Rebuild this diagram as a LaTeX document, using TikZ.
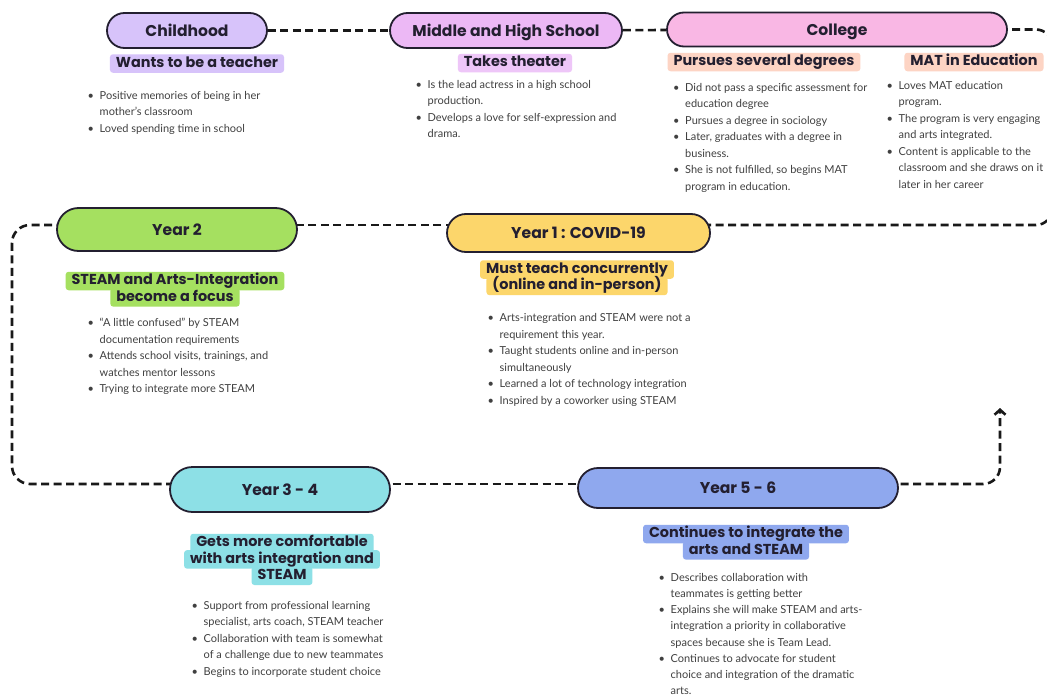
\documentclass[tikz,border=0pt]{standalone}
\usepackage{fontspec}
\setmainfont{Lato}
\newfontfamily\headfont{Poppins}
\usetikzlibrary{positioning, arrows.meta, backgrounds}
\definecolor{childFill}{HTML}{D7C3FA}
\definecolor{schoolFill}{HTML}{ECB8F5}
\definecolor{schoolHl}{HTML}{EEC6F8}
\definecolor{collegeFill}{HTML}{F9B7E4}
\definecolor{degreeFill}{HTML}{FDD4C4}
\definecolor{yearTwoFill}{HTML}{A5E060}
\definecolor{yearOneFill}{HTML}{FCD66B}
\definecolor{yearThreeFill}{HTML}{8DE0E6}
\definecolor{yearFiveFill}{HTML}{8FA8EE}
\definecolor{inkDark}{HTML}{231F30}
\definecolor{bodyGrey}{HTML}{404040}
\newcommand{\bpt}{\makebox[12pt][l]{\textbullet}}
\newcommand{\bgap}{\hspace*{12pt}}

\begin{document}
\begin{tikzpicture}[x=1pt, y=-1pt,
    pill/.style n args={3}{draw=inkDark, line width=1.8pt, fill=#1,
        minimum width=#2pt, minimum height=#3pt, rounded corners=0.5*#3pt,
        inner sep=0pt, text height=11pt, text depth=0pt, text=inkDark,
        font=\headfont\bfseries\fontsize{15.6}{17}\selectfont},
    hl/.style={fill=#1, rounded corners=3pt, inner xsep=6pt, inner ysep=2.5pt,
        text height=10.5pt, text depth=3pt, text=inkDark,
        font=\headfont\bfseries\fontsize{14.4}{16}\selectfont},
    notes/.style={anchor=north west, align=left, inner sep=0pt, text=bodyGrey,
        font=\fontsize{11}{16.5}\selectfont},
    trail/.style={line width=2.6pt, dash pattern=on 8pt off 4.5pt, draw=black!90}]
    \useasboundingbox (0,0) rectangle (1047,696);

    % stages
    \node[pill={childFill}{160}{35}] (child) at (187, 30.5) {Childhood};
    \node[pill={schoolFill}{232}{35}] (school) at (506, 30.5) {Middle and High School};
    \node[pill={collegeFill}{340}{34}] (college) at (837, 29.5) {College};
    \node[pill={yearTwoFill}{240}{43}] (yearTwo) at (177, 229.5) {Year 2};
    \node[pill={yearOneFill}{263}{38}] (yearOne) at (578.5, 233) {Year 1 : COVID-19};
    \node[pill={yearThreeFill}{220}{45}] (yearThree) at (280, 489.5) {Year 3 - 4};
    \node[pill={yearFiveFill}{320}{40}] (yearFive) at (738, 488) {Year 5 - 6};

    % highlighted headings
    \node[hl=childFill] (childHead) at (197, 63.5) {Wants to be a teacher};
    \node[hl=schoolHl] (schoolHead) at (515, 63) {Takes theater};
    \node[hl=degreeFill] (degreeHead) at (764, 62) {Pursues several degrees};
    \node[hl=degreeFill] (matHead) at (974, 62) {MAT in Education};
    \node[hl=yearTwoFill] (yearTwoHeadA) at (175, 281) {STEAM and Arts-Integration};
    \node[hl=yearTwoFill, below=-2.5pt of yearTwoHeadA] (yearTwoHeadB) {become a focus};
    \node[hl=yearOneFill] (yearOneHeadA) at (577, 269.5) {Must teach concurrently};
    \node[hl=yearOneFill, below=-2.5pt of yearOneHeadA] (yearOneHeadB) {(online and in-person)};
    \node[hl=yearThreeFill] (yearThreeHeadA) at (282, 543) {Gets more comfortable};
    \node[hl=yearThreeFill, below=-2.5pt of yearThreeHeadA] (yearThreeHeadB) {with arts integration and};
    \node[hl=yearThreeFill, below=-2.5pt of yearThreeHeadB] (yearThreeHeadC) {STEAM};
    \node[hl=yearFiveFill] (yearFiveHeadA) at (746, 534) {Continues to integrate the};
    \node[hl=yearFiveFill, below=-2.5pt of yearFiveHeadA] (yearFiveHeadB) {arts and STEAM};

    % bullet notes
    \node[notes] (childNotes) at (87.5, 91) {\bpt Positive memories of being in her\\
        \bgap mother's classroom\\ \bpt Loved spending time in school};
    \node[notes] (schoolNotes) at (415.5, 80) {\bpt Is the lead actress in a high school\\
        \bgap production.\\ \bpt Develops a love for self-expression and\\ \bgap drama.};
    \node[notes] (degreeNotes) at (673, 83) {\bpt Did not pass a specific assessment for\\
        \bgap education degree\\ \bpt Pursues a degree in sociology\\
        \bpt Later, graduates with a degree in\\ \bgap business.\\
        \bpt She is not fulfilled, so begins MAT\\ \bgap program in education.};
    \node[notes] (matNotes) at (886.5, 81) {\bpt Loves MAT education\\ \bgap program.\\
        \bpt The program is very engaging\\ \bgap and arts integrated.\\
        \bpt Content is applicable to the\\ \bgap classroom and she draws on it\\
        \bgap later in her career};
    \node[notes] (yearTwoNotes) at (87.5, 318) {\bpt ``A little confused'' by STEAM\\
        \bgap documentation requirements\\ \bpt Attends school visits, trainings, and\\
        \bgap watches mentor lessons\\ \bpt Trying to integrate more STEAM};
    \node[notes] (yearOneNotes) at (487.5, 313.5) {\bpt Arts-integration and STEAM were not a\\
        \bgap requirement this year.\\ \bpt Taught students online and in-person\\
        \bgap simultaneously\\ \bpt Learned a lot of technology integration\\
        \bpt Inspired by a coworker using STEAM};
    \node[notes] (yearThreeNotes) at (191.5, 601) {\bpt Support from professional learning\\
        \bgap specialist, arts coach, STEAM teacher\\
        \bpt Collaboration with team is somewhat\\ \bgap of a challenge due to new teammates\\
        \bpt Begins to incorporate student choice};
    \node[notes, font=\fontsize{11}{16.2}\selectfont] (yearFiveNotes) at (658.5, 573) {\bpt Describes collaboration with\\
        \bgap teammates is getting better\\ \bpt Explains she will make STEAM and arts-\\
        \bgap integration a priority in collaborative\\ \bgap spaces because she is Team Lead.\\
        \bpt Continues to advocate for student\\ \bgap choice and integration of the dramatic\\
        \bgap arts.};

    \coordinate (eastBend) at (1052, 120);
    \coordinate (westBend) at (12, 350);
    \coordinate (arrowTip) at (1000, 408);

    % dashed path
    \begin{scope}[on background layer]
        \fill[white] (0,0) rectangle (1047,696);
        \draw[trail] (child) -- (school);
        \draw[trail] (school) -- (college);
        \draw[trail, rounded corners=16pt] (college.center) -| (eastBend) |- ([yshift=8pt]yearOne.center);
        \draw[trail] ([yshift=8pt]yearOne.center) -- ([yshift=4.5pt]yearTwo.center);
        \draw[trail, rounded corners=18pt] ([yshift=4.5pt]yearTwo.center) -| (westBend) |- ([yshift=5.5pt]yearThree.center);
        \draw[trail] ([yshift=5.5pt]yearThree.center) -- ([yshift=4pt]yearFive.center);
        \draw[trail, rounded corners=17pt, -{Straight Barb[length=5pt, width=11pt]}]
            ([yshift=4pt]yearFive.center) -| (arrowTip);
    \end{scope}
\end{tikzpicture}
\end{document}
